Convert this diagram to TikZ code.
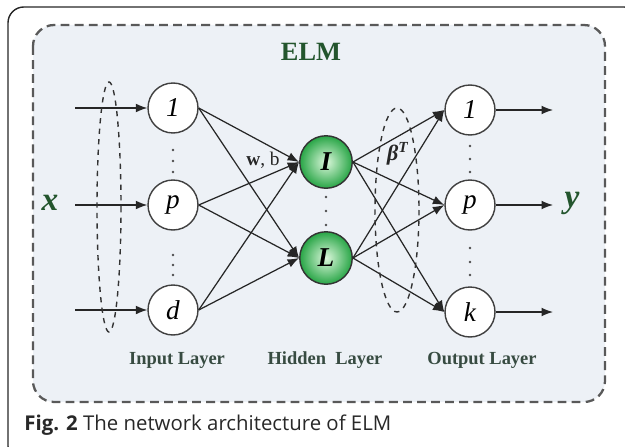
\documentclass[tikz,border=0pt]{standalone}
\usepackage{fontspec}
\setmainfont{Liberation Serif}
\newfontfamily\capfont{Open Sans}
\usetikzlibrary{arrows.meta,positioning,shapes.geometric}
\definecolor{elmgreen}{RGB}{35,85,45}
\definecolor{layergray}{RGB}{55,75,65}
\definecolor{boxbg}{RGB}{237,241,246}
\definecolor{hidgreen}{RGB}{40,165,70}
\definecolor{hidlight}{RGB}{220,248,220}
\definecolor{captext}{RGB}{40,40,40}

\tikzset{
  neuron/.style={circle, draw=black!75, fill=white, line width=0.8pt,
    minimum size=1cm, inner sep=0pt, font=\fontsize{15.5}{15.5}\selectfont\itshape},
  hidneuron/.style={neuron, minimum size=1.05cm, draw=black!80,
    inner color=hidlight, outer color=hidgreen,
    font=\fontsize{15.5}{15.5}\selectfont\bfseries\itshape},
  conn/.style={-{Latex[length=6.5pt,width=5pt]}, line width=0.7pt, black!85},
  layerlab/.style={font=\fontsize{10.5}{12}\selectfont\bfseries, text=layergray},
  groupring/.style={dashed, line width=0.8pt, black!80},
  neurondot/.style={fill=black!70},
}

\begin{document}
\begin{tikzpicture}[x=0.02cm, y=-0.02cm]
    \useasboundingbox (0,0) rectangle (625,446);
    \clip (0,0) rectangle (625,446);

    % Frames
    \draw[black!85, line width=0.8pt, rounded corners=9pt] (8,7) rectangle (640,462);
    \draw[fill=boxbg, draw=black!65, line width=1.3pt, dash pattern=on 5pt off 3pt,
        rounded corners=12pt] (33,25) rectangle (605,402);

    % Title
    \node[font=\fontsize{15}{15}\selectfont\bfseries, text=elmgreen] (title) at (311,52) {ELM};

    % Input layer
    \node[neuron] (in1) at (173,108) {1};
    \node[neuron] (inp) at (173,205) {p};
    \node[neuron] (ind) at (173,310) {d};

    % Hidden layer
    \node[hidneuron] (h1) at (326,162) {I};
    \node[hidneuron] (hL) at (326,258) {L};

    % Output layer
    \node[neuron] (out1) at (470,110) {1};
    \node[neuron] (outp) at (470,205) {p};
    \node[neuron] (outk) at (470,312) {k};

    % Dots between neurons
    \foreach \y in {150,161,172,255,265,275} {
        \fill[neurondot] (173,\y) circle (1.4);
    }
    \foreach \y in {197,211,225} {
        \fill[neurondot] (326,\y) circle (1.4);
    }
    \foreach \y in {146,159,172,248,262,275} {
        \fill[neurondot] (470,\y) circle (1.4);
    }

    % Input arrows
    \coordinate (x1) at (75,108);
    \coordinate (xp) at (75,205);
    \coordinate (xd) at (75,310);
    \draw[conn] (x1) -- (in1);
    \draw[conn] (xp) -- (inp);
    \draw[conn] (xd) -- (ind);

    % Input to hidden
    \foreach \i in {in1,inp,ind} {
        \draw[conn] (\i.east) -- (h1.west);
        \draw[conn] (\i.east) -- (hL.west);
    }

    % Hidden to output
    \foreach \h in {h1,hL} {
        \foreach \o in {out1,outp,outk} {
            \draw[conn] (\h.east) -- (\o.west);
        }
    }

    % Output arrows
    \coordinate (y1) at (553,110);
    \coordinate (yp) at (553,205);
    \coordinate (yk) at (553,312);
    \draw[conn] (out1) -- (y1);
    \draw[conn] (outp) -- (yp);
    \draw[conn] (outk) -- (yk);

    % Grouping ellipses
    \draw[groupring] (109,207) ellipse [x radius=12, y radius=125];
    \draw[groupring] (397,210) ellipse [x radius=22, y radius=102];

    % Labels
    \node[font=\fontsize{19}{19}\selectfont\bfseries\itshape, text=elmgreen] (xlab) at (50,203) {x};
    \node[font=\fontsize{19}{19}\selectfont\bfseries\itshape, text=elmgreen] (ylab) at (572,203) {y};
    \node[font=\fontsize{11}{11}\selectfont, text=black!85] (wb) at (263,160) {\textbf{w}, b};
    \node[font=\fontsize{12.5}{12.5}\selectfont\bfseries\itshape, text=black!85] (beta) at (398,154) {β\textsuperscript{T}};

    \node[layerlab] (inlab) at (177,360) {Input Layer};
    \node[layerlab] (hidlab) at (325,360) {Hidden\ \ Layer};
    \node[layerlab] (outlab) at (482,360) {Output Layer};

    % Caption
    \node[anchor=base west, inner sep=0pt, font=\capfont\fontsize{11.6}{13}\selectfont, text=captext]
        (caption) at (24,430) {\textbf{Fig. 2} The network architecture of ELM};
\end{tikzpicture}
\end{document}
